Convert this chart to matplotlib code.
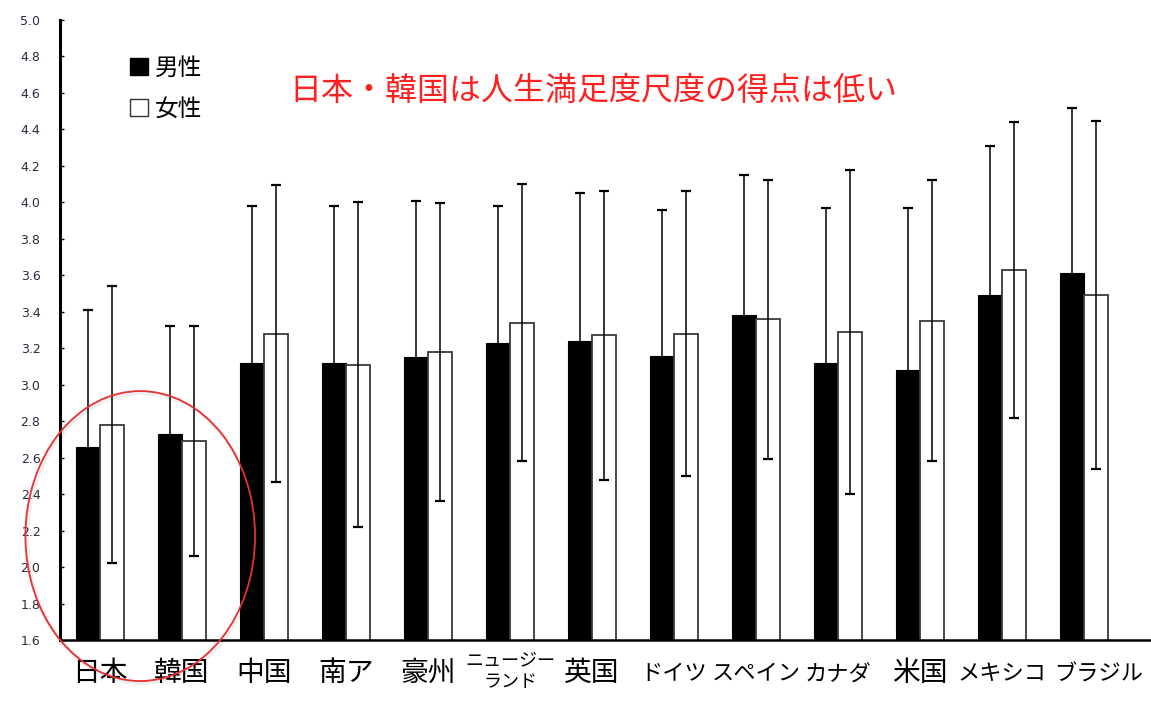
import numpy as np
import matplotlib.pyplot as plt
import matplotlib.transforms as mtrans
from matplotlib.patches import Patch, Ellipse

plt.rcParams['font.family'] = ['Noto Sans CJK JP', 'DejaVu Sans']

# data
countries = ['日本', '韓国', '中国', '南ア', '豪州', 'ニュージー\nランド', '英国',
             'ドイツ', 'スペイン', 'カナダ', '米国', 'メキシコ', 'ブラジル']
male_mean = [2.66, 2.73, 3.12, 3.12, 3.15, 3.23, 3.24, 3.16, 3.38, 3.12, 3.08, 3.49, 3.61]
male_sd = [0.75, 0.59, 0.86, 0.86, 0.86, 0.75, 0.81, 0.80, 0.77, 0.85, 0.89, 0.82, 0.91]
female_mean = [2.78, 2.69, 3.28, 3.11, 3.18, 3.34, 3.27, 3.28, 3.36, 3.29, 3.35, 3.63, 3.49]
female_sd = [0.76, 0.63, 0.815, 0.89, 0.815, 0.76, 0.79, 0.78, 0.765, 0.89, 0.77, 0.81, 0.955]
yticks = np.round(np.arange(1.6, 5.01, 0.2), 1)

fig = plt.figure(figsize=(11.51, 7.03), dpi=100)
ax = fig.add_axes([0.052, 0.0896, 0.947, 0.882])

x = np.arange(len(countries))
w = 0.29
err_kw = dict(ecolor='black', elinewidth=1.1, capsize=3.5, capthick=1.6)
# symmetric error bars; the lower half of the male ones disappears in the black bar
ax.bar(x - w / 2, male_mean, w, yerr=male_sd, color='black',
       edgecolor='black', linewidth=0.8, error_kw=err_kw, label='男性')
ax.bar(x + w / 2, female_mean, w, yerr=female_sd, color='white', edgecolor='#3a3a3a',
       linewidth=1.3, error_kw=err_kw, label='女性')

ax.set_ylim(1.6, 5.0)
ax.set_xlim(-0.49, 12.8)
ax.set_yticks(yticks)
ax.set_yticklabels([f'{v:.1f}' for v in yticks], fontsize=9, color='#2a2a40',
                   family=['DejaVu Sans'])
ax.tick_params(axis='y', direction='in', length=3, width=1, pad=14)
ax.tick_params(axis='x', length=0, pad=13)
ax.set_xticks(x)
ax.set_xticklabels(countries, fontsize=20)
for lab in ax.get_xticklabels():
    txt = lab.get_text()
    dx, dy = 0, 0
    if '\n' in txt:
        lab.set_fontsize(13)
        lab.set_linespacing(1.25)
        dy = 5
    elif not any('\u4e00' <= ch <= '\u9fff' for ch in txt):
        lab.set_fontsize(16)
        dy = -3
    if txt == 'ブラジル':
        dx = 10
    if dx or dy:
        lab.set_transform(lab.get_transform() +
                          mtrans.ScaledTranslation(dx / 72, dy / 72, fig.dpi_scale_trans))

for s in ['top', 'right']:
    ax.spines[s].set_visible(False)
ax.spines['left'].set_linewidth(2.2)
ax.spines['bottom'].set_linewidth(1.8)

handles = [Patch(facecolor='black', edgecolor='black', label='男性'),
           Patch(facecolor='white', edgecolor='#333333', label='女性')]
ax.legend(handles=handles, loc='upper left', bbox_to_anchor=(0.045, 0.975), frameon=False,
          fontsize=17, handlelength=0.75, handleheight=0.75, handletextpad=0.3,
          labelspacing=0.75)

ax.text(0.211, 0.885, '日本・韓国は人生満足度尺度の得点は低い', transform=ax.transAxes,
        color='#ff2020', fontsize=23, va='center', ha='left')

# faint shadow under the red circle (behind the bars), then the circle
shadow = Ellipse((0.51, 2.16), 2.8, 1.59, transform=ax.transData, fill=False,
                 edgecolor='#cccccc', linewidth=3, alpha=0.3, clip_on=False, zorder=0.5)
ax.add_patch(shadow)
circle = Ellipse((0.49, 2.17), 2.8, 1.59, transform=ax.transData, fill=False,
                 edgecolor='#e83030', linewidth=1.3, clip_on=False, zorder=5)
ax.add_patch(circle)

fig.savefig('out.png', dpi=100)
